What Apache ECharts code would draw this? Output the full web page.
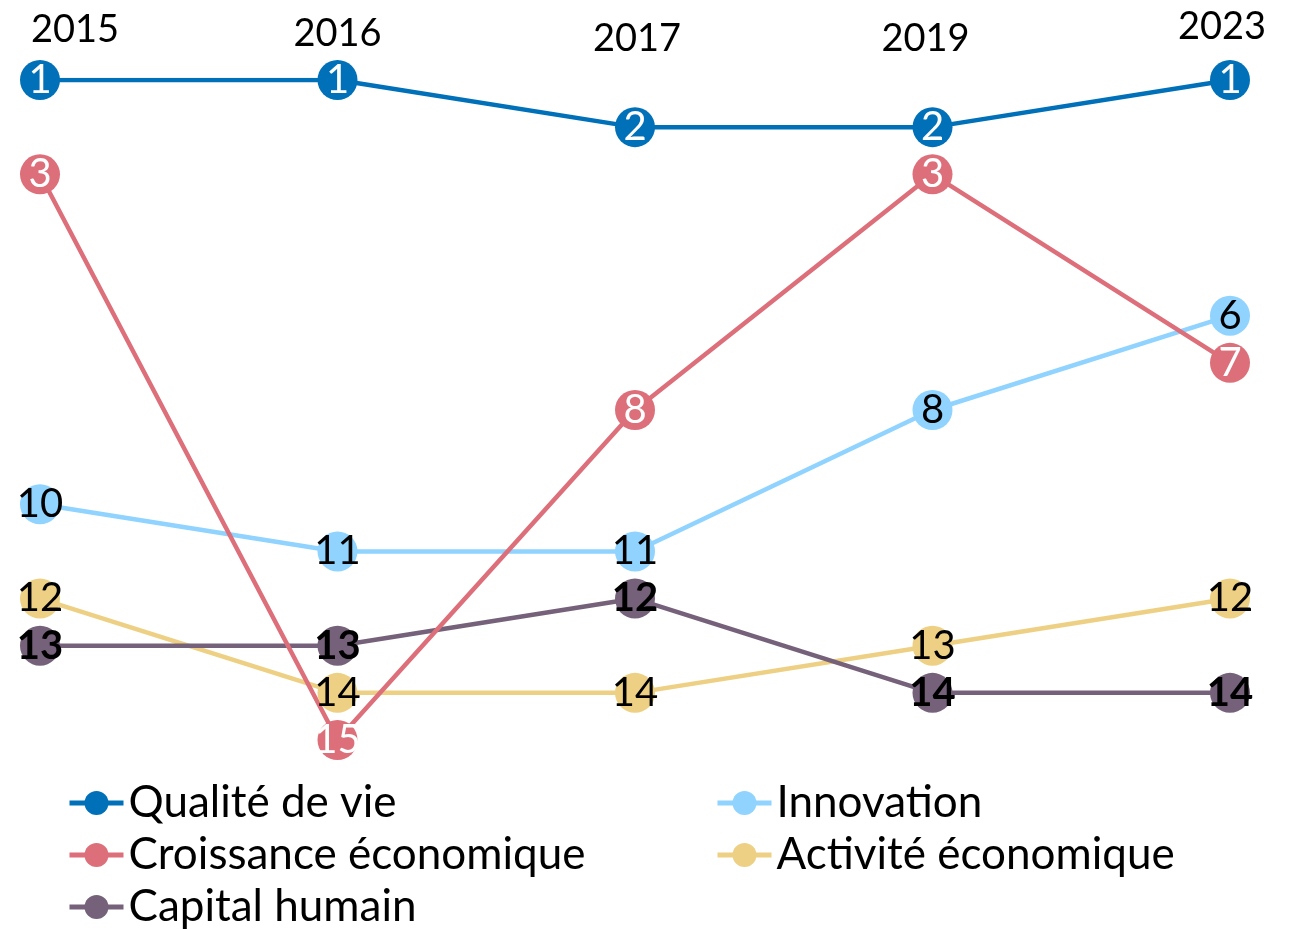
<!DOCTYPE html>
<html>
<head>
<meta charset="utf-8">
<script src="https://cdn.jsdelivr.net/npm/echarts@6/dist/echarts.min.js"></script>
<style>
  html, body { margin: 0; padding: 0; background: #fff; }
  #chart { width: 1296px; height: 930px; }
</style>
</head>
<body>
<div id="chart"></div>
<script>
// données (rangs)
var years = ['2015', '2016', '2017', '2019', '2023'];
var qualite = [1, 1, 2, 2, 1];
var croissance = [3, 15, 8, 3, 7];
var innovation = [10, 11, 11, 8, 6];
var activite = [12, 14, 14, 13, 12];
var capital = [13, 13, 12, 14, 14];

var FONT = 'Lato';
var chart = echarts.init(document.getElementById('chart'));

function serie(name, data, color, labelColor, bold) {
  return {
    name: name,
    type: 'line',
    data: data,
    symbol: 'circle',
    symbolSize: 40,
    itemStyle: { color: color },
    lineStyle: { color: color, width: 4.5 },
    label: {
      show: true,
      position: 'inside',
      color: labelColor,
      fontFamily: FONT,
      fontSize: 40,
      fontWeight: bold ? 'bold' : 'normal'
    },
    emphasis: { disabled: true },
    animation: false
  };
}

// décalage des années (comme dans l'original)
var yearPad = {
  '2015': [0, 0, 9, 70],
  '2016': [0, 0, 5, 0],
  '2017': [0, 0, 0, 4],
  '2019': [0, 14, 0, 0],
  '2023': [0, 16, 12, 0]
};
var richYears = {};
years.forEach(function (y) {
  richYears['y' + y] = { fontFamily: FONT, fontSize: 38, color: '#000', padding: yearPad[y] };
});

var legendBase = {
  orient: 'vertical',
  top: 781,
  height: 160,
  padding: 0,
  itemWidth: 54,
  itemHeight: 30,
  itemGap: 8,
  lineStyle: { width: 5 },
  textStyle: { fontFamily: FONT, fontSize: 44, color: '#000', lineHeight: 44 }
};

var option = {
  animation: false,
  grid: { left: 40, right: 66, top: 80, bottom: 190, containLabel: false },
  xAxis: {
    type: 'category',
    data: years,
    position: 'top',
    boundaryGap: false,
    axisLine: { show: false },
    axisTick: { show: false },
    splitLine: { show: false },
    axisLabel: {
      interval: 0,
      margin: 22,
      formatter: function (v) { return '{y' + v + '|' + v + '}'; },
      rich: richYears
    }
  },
  yAxis: {
    type: 'value',
    inverse: true,
    min: 1,
    max: 15,
    show: false
  },
  legend: [
    Object.assign({}, legendBase, {
      left: 67,
      data: ['Qualité de vie', 'Croissance économique', 'Capital humain']
    }),
    Object.assign({}, legendBase, {
      left: 715,
      data: ['Innovation', 'Activité économique']
    })
  ],
  series: [
    serie('Innovation', innovation, '#8fd3fe', '#000', false),
    serie('Activité économique', activite, '#edd083', '#000', false),
    serie('Capital humain', capital, '#76617a', '#000', true),
    serie('Croissance économique', croissance, '#dd6f7a', '#fff', false),
    serie('Qualité de vie', qualite, '#0070b8', '#fff', false)
  ]
};
chart.setOption(option);
</script>
</body>
</html>
